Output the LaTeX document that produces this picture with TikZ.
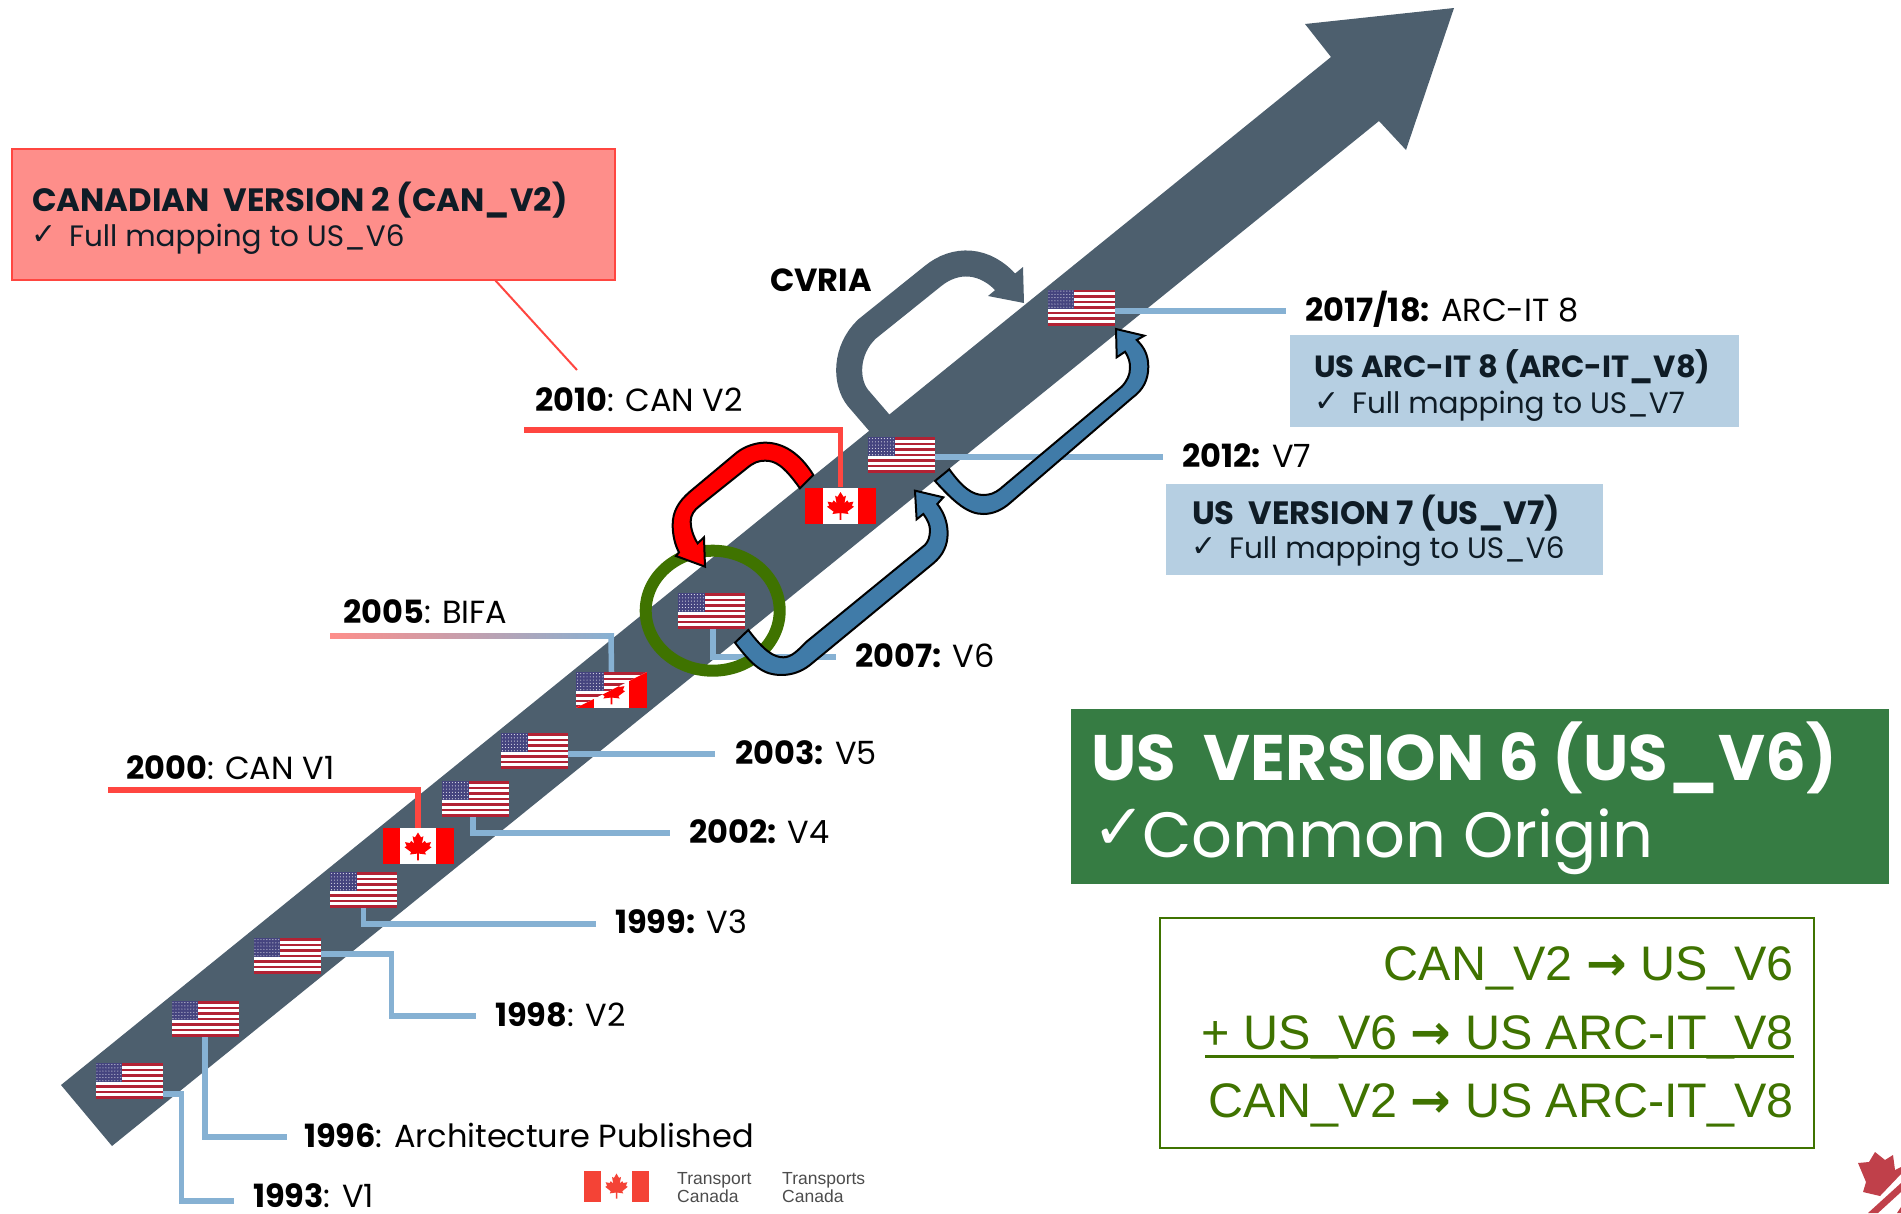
\documentclass[tikz,border=0pt]{standalone}
\usepackage{fontspec}
\setmainfont{Poppins}
\newfontfamily\arialf{Liberation Sans}
\newfontfamily\dejavu{DejaVu Sans}
\usetikzlibrary{calc,shapes.geometric}
\definecolor{slate}{HTML}{4D5F6E}
\definecolor{linkblue}{HTML}{86B1D3}
\definecolor{arrowblue}{HTML}{407BA8}
\definecolor{boxblue}{HTML}{B6CFE2}
\definecolor{boxred}{HTML}{FE8E8A}
\definecolor{linered}{HTML}{FF4640}
\definecolor{boxgreen}{HTML}{367C43}
\definecolor{thingreen}{HTML}{3F7300}
\definecolor{usred}{HTML}{B22234}
\definecolor{usblue}{HTML}{45447F}
\definecolor{tcred}{HTML}{F44336}
\definecolor{darktext}{HTML}{0F1C26}
\definecolor{leafred}{HTML}{C0404A}
\newcommand{\mapleleaf}{(0,1) -- (.17,.68) -- (.30,.76) -- (.22,.28) -- (.38,.46) -- (.45,.32) -- (.72,.38) -- (.63,.12) -- (.75,.05) -- (.38,-.27) -- (.45,-.42) -- (.05,-.36) -- (.05,-.80) -- (-.05,-.80) -- (-.05,-.36) -- (-.45,-.42) -- (-.38,-.27) -- (-.75,.05) -- (-.63,.12) -- (-.72,.38) -- (-.45,.32) -- (-.38,.46) -- (-.22,.28) -- (-.30,.76) -- (-.17,.68) -- cycle}
\newcommand{\usdrawing}[2]{%
  \fill[white] (0,0) rectangle (#1,#2);
  \foreach \i in {0,2,...,12} \fill[usred] (0,{\i*#2/13}) rectangle (#1,{(\i+1)*#2/13});
  \fill[usblue] (0,0) rectangle ({0.4*#1},{7*#2/13});
  \foreach \r in {0,...,5} \foreach \c in {0,...,8}
    \fill[white!85!usblue] ({(\c+.5)*0.4*#1/9},{(\r+.5)*7*#2/13/6}) circle (.55);
}
\newcommand{\candrawing}[2]{%
  \fill[white] (0,0) rectangle (#1,#2);
  \fill[red] (0,0) rectangle ({#1/4},#2);
  \fill[red] ({3*#1/4},0) rectangle (#1,#2);
  \begin{scope}[shift={({#1/2},{#2/2+2})},x=18pt,y=15.5pt]
    \fill[red] \mapleleaf;
  \end{scope}
}
% name, centre x, centre y
\newcommand{\usflagat}[3]{%
  \begin{scope}[shift={({#2-33.5},{#3-18})}]\usdrawing{67}{36}\end{scope}
  \node[usflagbox] (#1) at (#2,#3) {};}
\newcommand{\canflagat}[3]{%
  \begin{scope}[shift={({#2-35.5},{#3-18})}]\candrawing{71}{36}\end{scope}
  \node[canflagbox] (#1) at (#2,#3) {};}
\newcommand{\bothflagat}[3]{%
  \begin{scope}[shift={({#2-35.5},{#3-18})}]\usdrawing{71}{36}
    \begin{scope}\clip (0,36) -- (71,0) -- (71,36) -- cycle; \candrawing{71}{36}\end{scope}\end{scope}
  \node[canflagbox] (#1) at (#2,#3) {};}
\tikzset{
  usflagbox/.style={inner sep=0pt,minimum width=67pt,minimum height=36pt},
  canflagbox/.style={inner sep=0pt,minimum width=71pt,minimum height=36pt},
  uslink/.style={draw=linkblue,line width=5.5pt,line cap=butt},
  canlink/.style={draw=linered,line width=5.5pt,line cap=butt},
  yearlabel/.style={anchor=base west,inner sep=0pt,font=\fontsize{32}{36}\selectfont,text=black},
  boxtitle/.style={anchor=base west,inner sep=0pt,font=\bfseries\fontsize{32.3}{36}\selectfont,text=darktext},
  boxline/.style={anchor=base west,inner sep=0pt,font=\fontsize{29.5}{34}\selectfont,text=darktext},
  checkmark/.style={anchor=base west,inner sep=0pt,font=\dejavu\fontsize{30}{34}\selectfont,text=darktext},
  sumline/.style={anchor=base east,inner sep=0pt,font=\arialf\fontsize{48.5}{56}\selectfont,text=thingreen},
  logotext/.style={anchor=base west,inner sep=0pt,font=\arialf\fontsize{17.5}{20}\selectfont,text=black!70},
  outlined/.style={draw=black,line width=2pt,line join=miter,miter limit=4},
}
\newcommand{\sumarrow}{{\dejavu\bfseries →}}
\begin{document}
\begin{tikzpicture}[x=1pt,y=-1pt]
\useasboundingbox (0,0) rectangle (1901,1213);
% main arrow
\fill[slate] (61,1085) -- (1331,57) -- (1305,24) -- (1454,8) -- (1406,150) -- (1379,121) -- (112,1146) -- cycle;
% CVRIA arrow
\draw[slate,line width=26pt] (895,441) -- (858,398) .. controls (845,382) and (845,350) .. (867,329) -- (933,276) .. controls (955,258) and (985,258) .. (1008,285);
\fill[slate] (1023,267) -- (1024,303) -- (988,296) -- cycle;
% free ends
\coordinate (e1993) at (234,1201);
\coordinate (e1996) at (287,1137);
\coordinate (e1998) at (476,1016);
\coordinate (e1999) at (596,924);
\coordinate (e2000) at (108,790);
\coordinate (e2002) at (670,833);
\coordinate (e2003) at (715,754);
\coordinate (e2005) at (611,636);
\coordinate (e2007) at (836,657);
\coordinate (e2010) at (524,430);
\coordinate (e2012) at (1163,457);
\coordinate (e2017) at (1286,311);
% flags
\usflagat{f1993}{129}{1081}
\usflagat{f1996}{205}{1019}
\usflagat{f1998}{287}{956}
\usflagat{f1999}{363.5}{890}
\canflagat{f2000}{418}{846}
\usflagat{f2002}{475.5}{799}
\usflagat{f2003}{534.5}{751}
\bothflagat{f2005}{611.5}{690}
\usflagat{f2007}{711.5}{611}
\canflagat{f2010}{840.5}{505.5}
\usflagat{f2012}{901.5}{455}
\usflagat{f2017}{1081}{307.5}
% links
\draw[uslink] ([yshift=-13pt]f1993.east) -- ++(19,0) |- (e1993);
\draw[uslink] (f1996.south) |- (e1996);
\draw[uslink] ([yshift=2pt]f1998.east) -- ++(71,0) |- (e1998);
\draw[uslink] (f1999.south) |- (e1999);
\draw[canlink] (f2000.north) |- (e2000);
\draw[uslink] ([xshift=-2.5pt]f2002.south) |- (e2002);
\draw[uslink] ([yshift=-3pt]f2003.east) -- (e2003);
\shade[left color=boxred,right color=linkblue] (330,633.2) rectangle (614,638.8);
\draw[uslink] (f2005.north) -- (e2005);
\draw[uslink] ([xshift=1.5pt]f2007.south) |- (e2007);
\draw[canlink] (f2010.north) |- (e2010);
\draw[uslink] ([yshift=-2pt]f2012.east) -- (e2012);
\draw[uslink] ([yshift=-3.5pt]f2017.east) -- (e2017);
% green ring
\node[draw=thingreen,line width=12pt,ellipse,minimum width=134pt,minimum height=120pt,inner sep=0pt] (ring) at (712.7,610.7) {};
% red arrow
\begin{scope}[shift={(600,420)},x=.3333pt,y=-.3333pt]
\filldraw[red,outlined] (640,165) .. controls (600,100) and (550,68) .. (495,68) .. controls (470,68) and (435,78) .. (410,98) -- (270,215) .. controls (235,245) and (218,275) .. (218,315) .. controls (218,345) and (225,375) .. (237,397) -- (228,408) -- (315,440) -- (312,352) -- (293,370) .. controls (280,350) and (272,325) .. (272,305) .. controls (272,285) and (282,270) .. (300,257) -- (440,145) .. controls (460,128) and (475,122) .. (495,122) .. controls (525,122) and (550,135) .. (600,205) -- cycle;
\filldraw[arrowblue,outlined] (405,668) .. controls (460,740) and (490,765) .. (545,765) .. controls (575,765) and (605,755) .. (630,735) -- (1000,430) .. controls (1030,405) and (1043,375) .. (1043,340) .. controls (1043,305) and (1030,275) .. (1012,252) -- (1030,232) -- (945,212) -- (950,298) -- (970,282) .. controls (983,300) and (990,315) .. (990,330) .. controls (990,350) and (985,365) .. (975,375) -- (620,665) .. controls (595,690) and (575,712) .. (550,712) .. controls (520,712) and (490,690) .. (445,630) -- cycle;
\end{scope}
\filldraw[arrowblue,outlined] (935,481) .. controls (955,503) and (968,514) .. (983.3,514) .. controls (993,514) and (1002,510) .. (1010,503) -- (1132,398) .. controls (1143,390) and (1148.3,380) .. (1148.3,366.7) .. controls (1148.3,355) and (1144,347) .. (1136.7,340) -- (1144.3,335.7) -- (1116,329) -- (1116.7,357.3) -- (1125,351.7) .. controls (1129,358) and (1130,362) .. (1130,368) .. controls (1130,375) and (1127,381) .. (1121.7,386.7) -- (1000,489) .. controls (995,493) and (990,495) .. (983.3,495) .. controls (972,495) and (962,487) .. (949.3,469.3) -- cycle;
% year labels
\node[yearlabel] (l1993) at (253,1207) {\textbf{1993}: V1};
\node[yearlabel] (l1996) at (304,1147) {\textbf{1996}: Architecture Published};
\node[yearlabel] (l1998) at (495,1026) {\textbf{1998}: V2};
\node[yearlabel] (l1999) at (615,933) {\textbf{1999:} V3};
\node[yearlabel] (l2000) at (126,779) {\textbf{2000}: CAN V1};
\node[yearlabel] (l2002) at (689,843) {\textbf{2002:} V4};
\node[yearlabel] (l2003) at (735,764) {\textbf{2003:} V5};
\node[yearlabel] (l2005) at (343,623) {\textbf{2005}: BIFA};
\node[yearlabel] (l2007) at (855,667) {\textbf{2007:} V6};
\node[yearlabel] (l2010) at (535,411) {\textbf{2010}: CAN V2};
\node[yearlabel] (l2012) at (1182,467) {\textbf{2012:} V7};
\node[yearlabel] (l2017) at (1305,321) {\textbf{2017/18:} ARC-IT 8};
\node[yearlabel] (cvria) at (770,291) {\textbf{CVRIA}};
% red box
\node[draw=linered,fill=boxred,line width=2.5pt,inner sep=0pt,minimum width=603pt,minimum height=131pt] (canbox) at (313.5,214.5) {};
\coordinate (canend) at (577,370);
\draw[linered,line width=2pt] (495,280) -- (canend);
\node[boxtitle] (t1) at (32,211) {CANADIAN\ \ VERSION 2 (CAN\_V2)};
\node[checkmark] (c1) at (31,244) {✓};
\node[boxline] (s1) at (69,246) {Full mapping to US\_V6};
% blue boxes
\node[fill=boxblue,inner sep=0pt,minimum width=449pt,minimum height=92pt] (arcbox) at (1514.5,381) {};
\node[boxtitle,font=\bfseries\fontsize{30.6}{36}\selectfont] (t2) at (1314,377) {US ARC-IT 8 (ARC-IT\_V8)};
\node[checkmark] (c2) at (1314,411) {✓};
\node[boxline] (s2) at (1352,413) {Full mapping to US\_V7};
\node[fill=boxblue,inner sep=0pt,minimum width=437pt,minimum height=91pt] (v7box) at (1384.5,529.5) {};
\node[boxtitle] (t3) at (1192,524) {US\ \ VERSION 7 (US\_V7)};
\node[checkmark] (c3) at (1191,556) {✓};
\node[boxline] (s3) at (1229,558) {Full mapping to US\_V6};
% green box
\node[fill=boxgreen,inner sep=0pt,minimum width=818pt,minimum height=175pt] (v6box) at (1480,796.5) {};
\node[anchor=base west,inner sep=0pt,text=white,font=\bfseries\fontsize{64.3}{70}\selectfont] (t4) at (1091,780) {US\ \ VERSION 6 (US\_V6)};
\node[anchor=base west,inner sep=0pt,text=white,font=\dejavu\fontsize{64}{70}\selectfont] (c4) at (1092,849) {✓};
\node[anchor=base west,inner sep=0pt,text=white,font=\fontsize{64}{70}\selectfont] (s4) at (1142,857) {Common Origin};
% summary box
\node[draw=thingreen,line width=2pt,inner sep=0pt,minimum width=654pt,minimum height=230pt] (sumbox) at (1487,1033) {};
\node[sumline] (g1) at (1794,980) {CAN\_V2 \sumarrow{} US\_V6};
\node[sumline] (g2) at (1794,1049) {+ US\_V6 \sumarrow{} US ARC-IT\_V8};
\coordinate (ug) at (1794,1056);
\coordinate (uh) at (1205,1056);
\draw[thingreen,line width=3pt] (uh) -- (ug);
\node[sumline] (g3) at (1794,1117) {CAN\_V2 \sumarrow{} US ARC-IT\_V8};
% logo
\fill[tcred] (584,1171) rectangle (601,1202);
\fill[tcred] (632,1171) rectangle (649,1202);
\begin{scope}[shift={(616.5,1187.5)},x=15pt,y=14pt]
\fill[tcred] \mapleleaf;
\end{scope}
\node[logotext] (tr1) at (677,1184) {Transport};
\node[logotext] (tr2) at (677,1202) {Canada};
\node[logotext] (tr3) at (782,1184) {Transports};
\node[logotext] (tr4) at (782,1202) {Canada};
% corner leaf
\begin{scope}
\clip (1840,1140) rectangle (1901,1213);
\fill[leafred] (1858,1163) -- (1869,1162) -- (1875,1152) -- (1885,1160) -- (1893,1155) -- (1895,1170) -- (1901,1167) -- (1901,1174) -- (1880,1196) -- (1863,1192) -- (1866,1182) -- cycle;
\fill[leafred] (1868,1213) -- (1901,1183) -- (1901,1192) -- (1878,1213) -- cycle;
\fill[leafred] (1897,1213) -- (1901,1207) -- (1901,1213) -- cycle;
\end{scope}
\end{tikzpicture}
\end{document}
